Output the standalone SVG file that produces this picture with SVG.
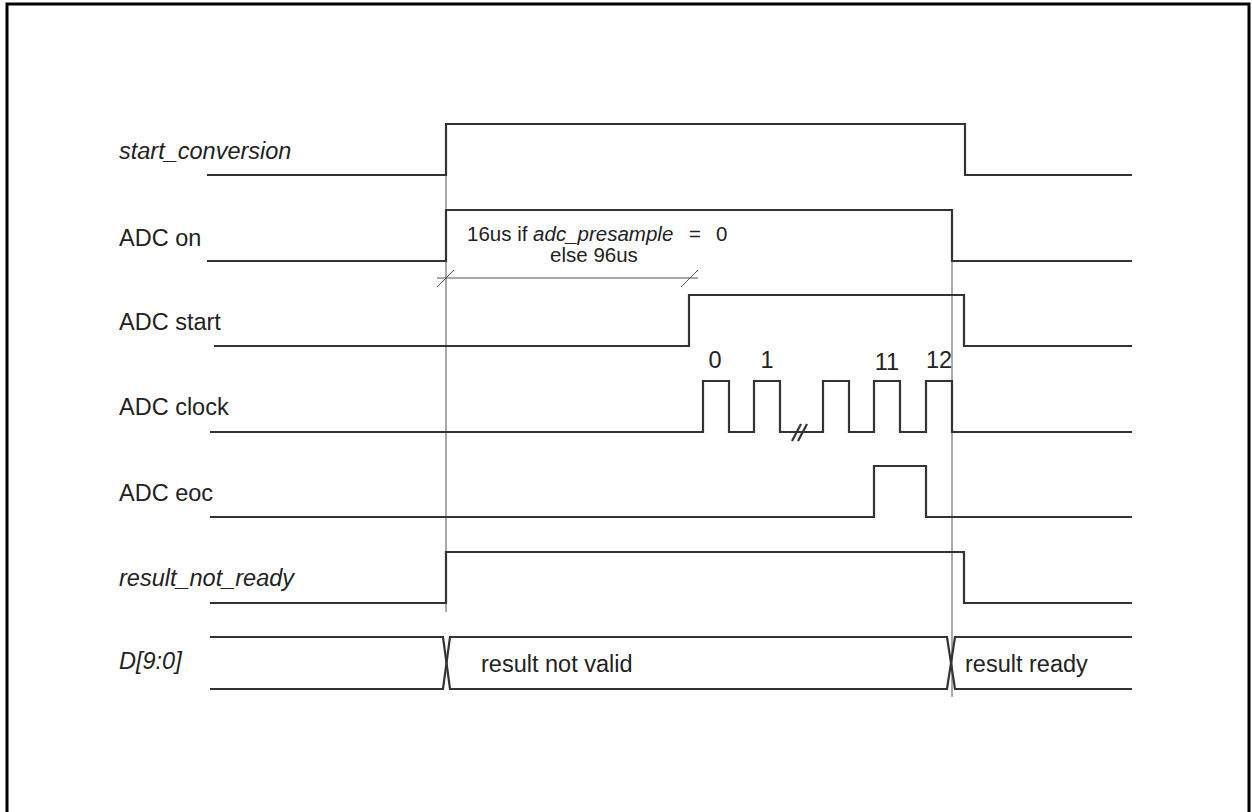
<svg xmlns="http://www.w3.org/2000/svg" width="1252" height="812" viewBox="0 0 1252 812">
<style>
.sig{fill:none;stroke:#333;stroke-width:2.2;stroke-linejoin:miter}
.guide{fill:none;stroke:#555;stroke-width:1}
.lbl{font-family:"Liberation Sans",Arial,sans-serif;font-size:23.5px;fill:#222}
.it{font-style:italic}
.sm{font-family:"Liberation Sans",Arial,sans-serif;font-size:20.5px;fill:#222}
</style>
<rect width="1252" height="812" fill="#fff"/>
<path d="M7 812 V4 H1249 V812" fill="none" stroke="#000" stroke-width="3"/>

<g id="connectors">
  <line class="guide" x1="446" y1="175" x2="446" y2="612"/>
  <line class="guide" x1="952" y1="261" x2="952" y2="697"/>
  <line class="guide" x1="437" y1="278" x2="698" y2="278"/>
  <line class="guide" x1="437" y1="287" x2="454" y2="270"/>
  <line class="guide" x1="681" y1="287" x2="698" y2="270"/>
</g>

<g id="start_conversion">
  <text class="lbl it" x="119" y="159">start_conversion</text>
  <path class="sig" d="M207 175 H446 V124 H965 V175 H1132"/>
</g>

<g id="adc_on">
  <text class="lbl" x="119" y="246">ADC on</text>
  <path class="sig" d="M207 261 H446 V210 H952 V261 H1132"/>
  <text class="sm" x="467" y="241">16us if <tspan font-style="italic">adc_presample</tspan><tspan x="689">=</tspan><tspan x="716">0</tspan></text>
  <text class="sm" x="594" y="262" text-anchor="middle">else 96us</text>
</g>

<g id="adc_start">
  <text class="lbl" x="119" y="330">ADC start</text>
  <path class="sig" d="M214 346 H689 V295 H964 V346 H1132"/>
</g>

<g id="adc_clock">
  <text class="lbl" x="119" y="415">ADC clock</text>
  <path class="sig" d="M210 432 H703 V381 H729 V432 H754 V381 H780 V432 H823 V381 H849 V432 H874 V381 H900 V432 H926 V381 H952 V432 H1132"/>
  <path class="sig" stroke-width="1.6" d="M792 441 L801 424 M798 441 L807 424"/>
  <text class="lbl" x="715" y="368" text-anchor="middle">0</text>
  <text class="lbl" x="767" y="368" text-anchor="middle">1</text>
  <text class="lbl" x="887" y="370" text-anchor="middle">11</text>
  <text class="lbl" x="939" y="368" text-anchor="middle">12</text>
</g>

<g id="adc_eoc">
  <text class="lbl" x="119" y="501">ADC eoc</text>
  <path class="sig" d="M210 517 H874 V466 H926 V517 H1132"/>
</g>

<g id="result_not_ready">
  <text class="lbl it" x="119" y="586">result_not_ready</text>
  <path class="sig" d="M210 603 H446 V552 H964 V603 H1132"/>
</g>

<g id="d_bus">
  <text class="lbl it" x="119" y="669">D[9:0]</text>
  <path class="sig" d="M210 637 H443 L450 689 H947 L955 637 H1132"/>
  <path class="sig" d="M210 689 H443 L450 637 H947 L955 689 H1132"/>
  <text class="lbl" x="481" y="672">result not valid</text>
  <text class="lbl" x="965" y="672">result ready</text>
</g>
</svg>
